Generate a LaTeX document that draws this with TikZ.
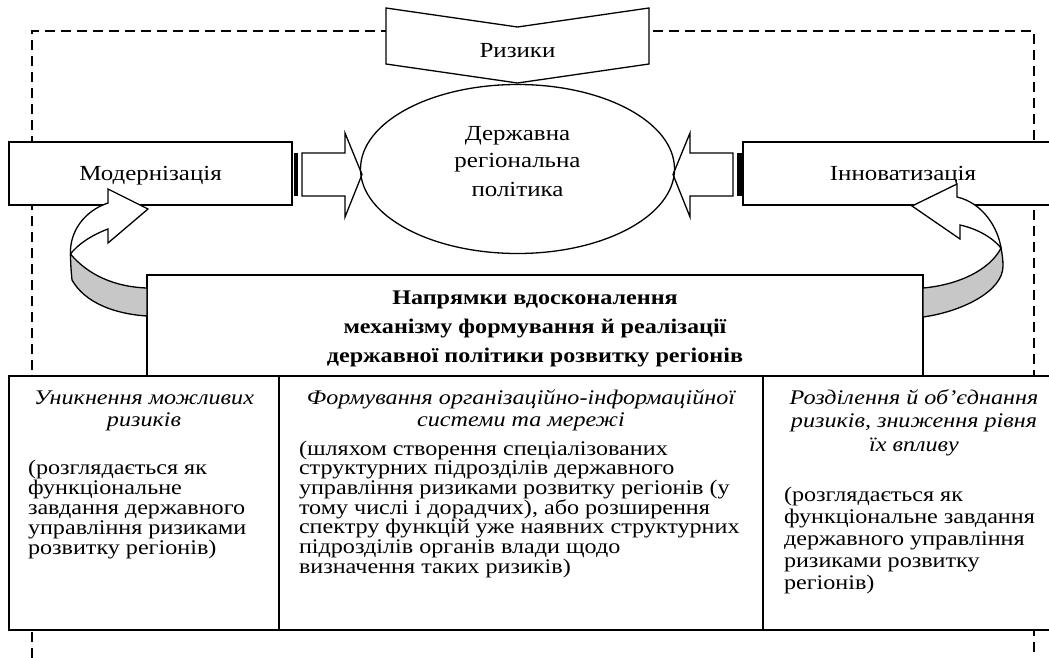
\documentclass[tikz,border=0pt]{standalone}
\usepackage{fontspec}
\setmainfont[FakeStretch=1.16]{Liberation Serif}
\usetikzlibrary{shapes.geometric}
\newcommand\lblfont{\fontsize{21.5}{28}\selectfont}
\begin{document}
\begin{tikzpicture}[x=1pt,y=-1pt,
  lw/.style={line width=1.3pt},
  box/.style={draw, fill=white, line width=1.3pt, inner sep=0pt, outer sep=0pt},
  dashln/.style={line width=1.2pt, dash pattern=on 10pt off 6pt},
  bandfill/.style={draw, line width=1.3pt, fill=black!22},
  txt/.style={inner sep=0pt, outer sep=0pt},
  lbl/.style={box, font=\lblfont, text height=13pt, text depth=0pt}
]
\useasboundingbox (0,0) rectangle (1049,658);
\clip (0,0) rectangle (1049,658);
% dashed frame
\draw[dashln] (32,658) -- (32,31) -- (1034,31) -- (1034,658);
% Ризики chevron
\coordinate (rzA) at (386,8);
\coordinate (rzB) at (517.5,27);
\coordinate (rzC) at (649,8);
\coordinate (rzD) at (649,64);
\coordinate (rzE) at (517.5,83);
\coordinate (rzF) at (386,64);
\draw[box] (rzA) -- (rzB) -- (rzC) -- (rzD) -- (rzE) -- (rzF) -- cycle;
\node[txt, anchor=base, font=\lblfont] (riz) at (517.5,58) {Ризики};
% ellipse
\node[box, ellipse, minimum width=314pt, minimum height=169pt] (pol) at (517.5,169) {};
\node[txt, anchor=base] (polt) at (517.5,140) {\parbox[t]{220pt}{\centering\lblfont Державна\\регіональна\\політика}};
% side boxes
\node[lbl, minimum width=283pt, minimum height=63pt] (mod) at (150.5,173.5) {Модернізація};
\node[lbl, minimum width=320pt, minimum height=63pt] (inn) at (903,173.5) {Інноватизація};
% left striped block arrow
\fill (293.5,153) rectangle (298,196);
\draw[lw] (302,153) -- (345,153) -- (345,133) -- (362,174.5) -- (345,217) -- (345,196) -- (302,196) -- cycle;
% right striped block arrow
\fill (737,153) rectangle (741.5,196);
\draw[lw] (733,153) -- (690,153) -- (690,133) -- (673,174.5) -- (690,217) -- (690,196) -- (733,196) -- cycle;
% central box
\node[box, minimum width=776pt, minimum height=101pt] (dir) at (535,325.5) {};
\node[txt, anchor=base] (dirt) at (535,304) {\parbox[t]{640pt}{\centering\bfseries\fontsize{20.8}{29}\selectfont Напрямки вдосконалення\\механізму формування й реалізації\\державної політики розвитку регіонів}};
% left U-turn arrow
\draw[box] (108,203) -- (108,189) -- (148,209) -- (108,243) -- (108,229)
  .. controls (92,235) and (78,244) .. (70.5,254)
  .. controls (69.5,232) and (84,211) .. (108,203) -- cycle;
\draw[bandfill] (70.5,254) .. controls (88,275) and (115,287) .. (147,288)
  -- (147,316) .. controls (115,314) and (85,303) .. (72,280)
  .. controls (71,270) and (70.5,262) .. (70.5,254) -- cycle;
% right U-turn arrow
\draw[box] (957,197) -- (957,184) -- (912,206) -- (960,239) -- (960,225)
  .. controls (978,229) and (993,238) .. (1001,248)
  .. controls (998,228) and (983,203) .. (957,197) -- cycle;
\draw[bandfill] (1001,248) .. controls (990,270) and (958,285) .. (923,288)
  -- (923,317) .. controls (960,312) and (1003,292) .. (1003,266)
  .. controls (1003,259) and (1002,253) .. (1001,248) -- cycle;
% table
\node[box, minimum width=1054pt, minimum height=254pt, anchor=north west] (tab) at (9,376) {};
\draw[lw] (279,376) -- (279,630);
\draw[lw] (763,376) -- (763,630);
% column 1
\node[txt, anchor=base] (c1h) at (144,404) {\parbox[t]{265pt}{\centering\itshape\fontsize{20.8}{22}\selectfont Уникнення можливих\\ризиків}};
\node[txt, anchor=base west] (c1b) at (28,474) {\parbox[t]{250pt}{\raggedright\fontsize{20.8}{20}\selectfont (розглядається як\\функціональне\\завдання державного\\управління ризиками\\розвитку регіонів)}};
% column 2
\node[txt, anchor=base] (c2h) at (521,404) {\parbox[t]{480pt}{\centering\itshape\fontsize{20.8}{22.5}\selectfont Формування організаційно-інформаційної\\системи та мережі}};
\node[txt, anchor=base west] (c2b) at (299,455) {\parbox[t]{460pt}{\raggedright\fontsize{20.8}{19.7}\selectfont (шляхом створення спеціалізованих\\структурних підрозділів державного\\управління ризиками розвитку регіонів (у\\тому числі і дорадчих), або розширення\\спектру функцій уже наявних структурних\\підрозділів органів влади щодо\\визначення таких ризиків)}};
% column 3
\node[txt, anchor=base] (c3h) at (914,404) {\parbox[t]{290pt}{\centering\itshape\fontsize{20.8}{23.5}\selectfont Розділення й об’єднання\\ризиків, зниження рівня\\їх впливу}};
\node[txt, anchor=base west] (c3b) at (784,501) {\parbox[t]{270pt}{\raggedright\fontsize{20.8}{22}\selectfont (розглядається як\\функціональне завдання\\державного управління\\ризиками розвитку\\регіонів)}};
\end{tikzpicture}
\end{document}
